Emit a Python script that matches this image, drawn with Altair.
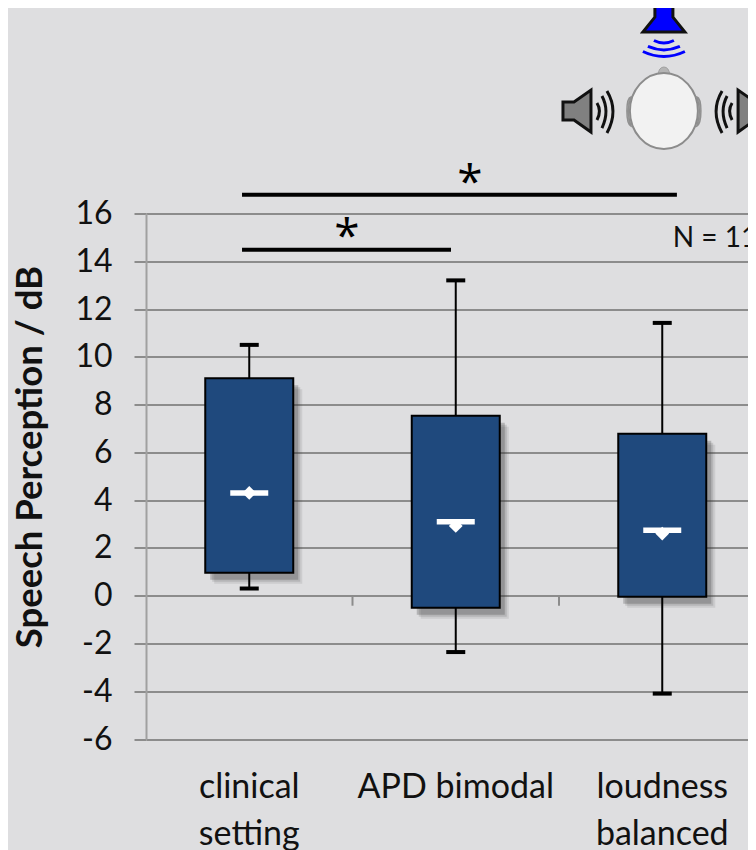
import altair as alt
import pandas as pd

# ---- values ----
groups = [0.5, 1.5, 2.5]
q1 = [0.96, -0.5, -0.04]
q3 = [9.1, 7.53, 6.78]
wlo = [0.3, -2.36, -4.1]
whi = [10.5, 13.2, 11.42]
medians = [4.3, 3.1, 2.74]
means = [4.3, 2.92, 2.6]
y_ticks = [-6, -4, -2, 0, 2, 4, 6, 8, 10, 12, 14, 16]
label_x = [0.5, 1.5, 2.5, 0.5, 2.5]
label_y = [-8.07, -8.07, -8.07, -10.0, -10.0]
label_txt = ["clinical", "APD bimodal", "loudness", "setting", "balanced"]
sig_x = [0.465, 0.465]
sig_x2 = [2.571, 1.477]
sig_y = [16.78, 14.48]
star_x = [1.569, 0.973]
star_y = [17.49, 15.23]
minor_ticks = [1.0, 2.0]

BG = "#DEDEE0"
GRID = "#8C8C8C"
FONT = "Lato"
PX = 206.5   # pixels per x unit

xs = alt.Scale(domain=[0, 602 / PX], nice=False, zero=False)
ys = alt.Scale(domain=[-6, 16], nice=False, zero=False)
y_axis = alt.Axis(
    values=y_ticks, grid=True, gridColor=GRID, gridWidth=2, gridOpacity=1,
    tickColor=GRID, tickSize=12, tickWidth=2, domainColor="#A0A0A0", domainWidth=2,
    labelFont=FONT, labelFontSize=32, labelColor="#111111", labelPadding=22,
    labelExpr="'' + datum.value",
    title="Speech Perception / dB", titleFont=FONT, titleFontSize=36.5, titleFontWeight="bold",
    titleColor="#111111", titleX=-97, titleY=243, titleAngle=-90, titleAlign="center")
X = lambda f: alt.X(f, type="quantitative", scale=xs, axis=None)
Y = lambda f: alt.Y(f, type="quantitative", scale=ys, axis=y_axis)

box = pd.DataFrame({"g": groups, "q1": q1, "q3": q3, "lo": wlo, "hi": whi, "med": medians, "mean": means})
hb = 44 / PX
box["l"] = box.g - hb
box["r"] = box.g + hb
box["cl"] = box.g - 9.5 / PX
box["cr"] = box.g + 9.5 / PX
box["ml"] = box.g - 19 / PX
box["mr"] = box.g + 19 / PX

base = alt.Chart(box)

axis_layer = alt.Chart(pd.DataFrame({"v": y_ticks})).mark_rule(opacity=0).encode(y=Y("v"))

minor = alt.Chart(pd.DataFrame({"x": minor_ticks, "a": [0, 0], "b": [-0.42, -0.42]})).mark_rule(
    color=GRID, strokeWidth=2).encode(x=X("x"), y=Y("a"), y2="b")

shadows = [
    base.mark_rect(color="#333333", opacity=o, xOffset=dx, x2Offset=dx, yOffset=dy, y2Offset=dy).encode(
        x=X("l"), x2="r", y=Y("q1"), y2="q3")
    for dx, dy, o in [(9, 11, 0.10), (7, 9, 0.15), (5, 7, 0.25)]
]

whisk = base.mark_rule(color="black", strokeWidth=2).encode(x=X("g"), y=Y("lo"), y2="hi")
cap_lo = base.mark_rule(color="black", strokeWidth=4).encode(x=X("cl"), x2="cr", y=Y("lo"))
cap_hi = base.mark_rule(color="black", strokeWidth=4).encode(x=X("cl"), x2="cr", y=Y("hi"))
boxes = base.mark_rect(color="#1F497D", stroke="black", strokeWidth=2).encode(
    x=X("l"), x2="r", y=Y("q1"), y2="q3")
med = base.mark_rule(color="white", strokeWidth=5.5).encode(x=X("ml"), x2="mr", y=Y("med"))
mean = base.mark_point(shape="diamond", filled=True, color="white", opacity=1, size=190).encode(
    x=X("g"), y=Y("mean"))

sig = alt.Chart(pd.DataFrame({"x": sig_x, "x2": sig_x2, "y": sig_y})).mark_rule(
    color="black", strokeWidth=4).encode(x=X("x"), x2="x2", y=Y("y"))
stars = alt.Chart(pd.DataFrame({"x": star_x, "y": star_y, "t": ["*", "*"]})).mark_text(
    font="Open Sans", fontSize=46, color="black", baseline="middle", dy=6).encode(x=X("x"), y=Y("y"), text="t")
n_txt = alt.Chart(pd.DataFrame({"x": [2.551], "y": [14.95], "t": ["N = 11"]})).mark_text(
    font=FONT, fontSize=28, color="#111111", align="left", baseline="middle").encode(x=X("x"), y=Y("y"), text="t")
labels = alt.Chart(pd.DataFrame({"x": label_x, "y": label_y, "t": label_txt})).mark_text(
    font=FONT, fontSize=34, color="#111111", baseline="middle").encode(x=X("x"), y=Y("y"), text="t")

# ---- head and loudspeaker icon, custom symbols drawn at pixel scale (size=4) ----
head_x, head_y = 2.508, 20.29
top_y, wave_y, left_x, right_x = 24.14, 22.95, 2.087, 2.935

def sym(path, x, y, **kw):
    d = pd.DataFrame({"x": [x], "y": [y]})
    return alt.Chart(d).mark_point(shape=path, size=4, opacity=1, **kw).encode(x=X("x"), y=Y("y"))

HEAD = "M -34 0 A 34 38 0 1 1 34 0 A 34 38 0 1 1 -34 0 Z"
NOSE = "M -6 -36 Q -5 -44 0 -44 Q 5 -44 6 -36 Z"
EAR_L = "M -33 -14 Q -38 0 -33 15 Q -37 13 -37 0 Q -37 -13 -33 -14 Z"
EAR_R = "M 33 -14 Q 38 0 33 15 Q 37 13 37 0 Q 37 -13 33 -14 Z"
TOP_SPK = "M -9 -14 L 9 -14 L 9 -2 L 21 13 L -21 13 L -9 -2 Z"
TOP_W = "M -10 -7 Q 0 -2 10 -7 M -16 -1 Q 0 6 16 -1 M -21 4 Q 0 14 21 4"
LEFT_SPK = "M -14 -9 L -3 -9 L 14 -21 L 14 21 L -3 9 L -14 9 Z"
LEFT_W = "M 20 -8 Q 25 0 20 9 M 25 -15 Q 33 0 25 17 M 30 -20 Q 42 0 30 22"
RIGHT_SPK = "M 14 -9 L 3 -9 L -14 -21 L -14 21 L 3 9 L 14 9 Z"
RIGHT_W = "M -20 -8 Q -25 0 -20 9 M -25 -15 Q -33 0 -25 17 M -30 -20 Q -42 0 -30 22"

icons = [
    sym(NOSE, head_x, head_y, filled=True, fill="#B4B4B4", stroke="#A0A0A0", strokeWidth=1),
    sym(EAR_L, head_x, head_y, filled=True, fill="#B4B4B4", stroke="#909090", strokeWidth=1.5),
    sym(EAR_R, head_x, head_y, filled=True, fill="#B4B4B4", stroke="#909090", strokeWidth=1.5),
    sym(HEAD, head_x, head_y, filled=True, fill="#F2F2F2", stroke="#8C8C8C", strokeWidth=2),
    sym(TOP_SPK, head_x, top_y, filled=True, fill="#0000FF", stroke="#111111", strokeWidth=3),
    sym(TOP_W, head_x, wave_y, filled=False, stroke="#0000FF", strokeWidth=3),
    sym(LEFT_SPK, left_x, head_y, filled=True, fill="#808080", stroke="#111111", strokeWidth=3),
    sym(LEFT_W, left_x, head_y, filled=False, stroke="#111111", strokeWidth=3),
    sym(RIGHT_SPK, right_x, head_y, filled=True, fill="#808080", stroke="#111111", strokeWidth=3),
    sym(RIGHT_W, right_x, head_y, filled=False, stroke="#111111", strokeWidth=3),
]

chart = alt.layer(
    axis_layer, minor, *shadows, whisk, cap_lo, cap_hi, boxes, med, mean,
    sig, stars, n_txt, labels, *icons,
).resolve_scale(x="shared", y="shared").properties(
    width=602, height=525.5,
    background=BG,
    padding={"left": 138, "top": 205.5, "right": 0, "bottom": 111},
    autosize=alt.AutoSizeParams(type="none"),
).configure_view(stroke=None)

chart.save("out.html", embed_options={"renderer": "svg", "actions": False})
